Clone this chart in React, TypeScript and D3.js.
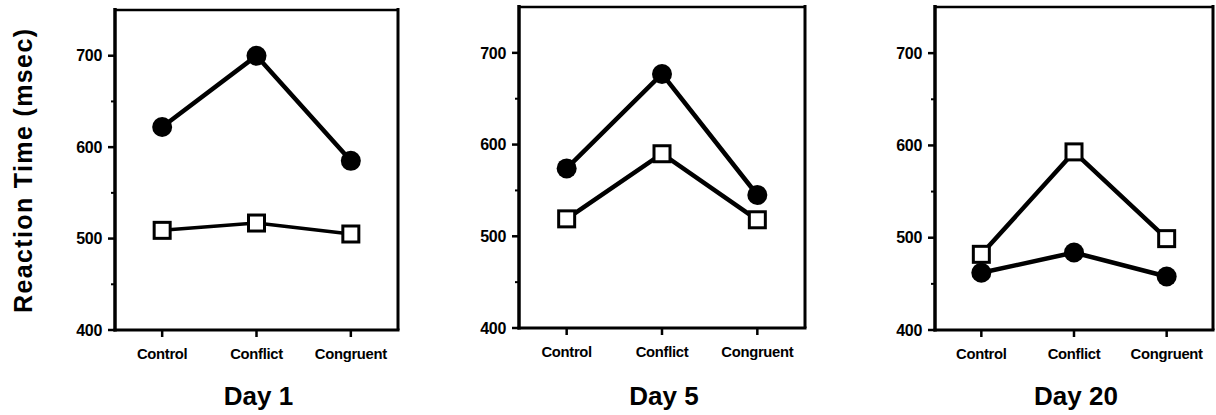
import React from "react";
import * as d3 from "d3";

const categories = ["Control", "Conflict", "Congruent"];
const days = ["Day 1", "Day 5", "Day 20"];
// filled circles
const circleValues = [
  [622, 700, 585],
  [574, 677, 545],
  [462, 484, 458],
];
// open squares
const squareValues = [
  [509, 517, 505],
  [519, 590, 518],
  [482, 593, 499],
];
const yTicks = [400, 500, 600, 700];
const yMinorTicks = [450, 550, 650];

const width = 1216;
const height = 415;
const font = "'Liberation Sans', Arial, Helvetica, sans-serif";

// pixel box of each panel
const panels = [
  { left: 115, right: 398, top: 10, bottom: 330 },
  { left: 519, right: 805, top: 7, bottom: 328 },
  { left: 935, right: 1213, top: 7, bottom: 330 },
];

const Panel = ({ idx }: { idx: number }) => {
  const p = panels[idx];
  const x = d3.scalePoint<string>().domain(categories).range([p.left, p.right]).padding(0.5);
  const y = d3.scaleLinear().domain([400, 750]).range([p.bottom, p.top]);
  const line = d3
    .line<number>()
    .x((_, i) => x(categories[i]) as number)
    .y((d) => y(d));
  const circles = circleValues[idx];
  const squares = squareValues[idx];
  const sq = 16;
  const mid = (p.left + p.right) / 2;

  return (
    <g>
      {/* frame */}
      <line x1={p.left} x2={p.right} y1={y(750)} y2={y(750)} stroke="#000" strokeWidth={2.5} />
      <line x1={p.right} x2={p.right} y1={y(750) - 2} y2={y(400)} stroke="#000" strokeWidth={3} />
      <line x1={p.left} x2={p.left} y1={y(750) - 2} y2={y(400) + 1.5} stroke="#000" strokeWidth={3.5} />
      <line x1={p.left - 1.5} x2={p.right + 1.5} y1={y(400)} y2={y(400)} stroke="#000" strokeWidth={3} />

      {/* y ticks */}
      {yTicks.map((t) => (
        <g key={t}>
          <line x1={p.left - 7} x2={p.left} y1={y(t)} y2={y(t)} stroke="#000" strokeWidth={2.5} />
          <text
            x={p.left - 13}
            y={y(t)}
            dy="0.36em"
            textAnchor="end"
            fontFamily={font}
            fontWeight="bold"
            fontSize={16}
            letterSpacing={-0.3}
          >
            {t}
          </text>
        </g>
      ))}
      {yMinorTicks.map((t) => (
        <line key={t} x1={p.left - 4} x2={p.left} y1={y(t)} y2={y(t)} stroke="#000" strokeWidth={2} />
      ))}

      {/* x ticks */}
      {categories.map((c) => (
        <g key={c}>
          <line
            x1={x(c)}
            x2={x(c)}
            y1={y(400)}
            y2={y(400) + 7}
            stroke="#000"
            strokeWidth={2.5}
          />
          <text
            x={x(c)}
            y={y(400) + 29}
            textAnchor="middle"
            fontFamily={font}
            fontWeight="bold"
            fontSize={14.8}
            letterSpacing={-0.3}
          >
            {c}
          </text>
        </g>
      ))}

      {/* series */}
      <path d={line(squares) || ""} fill="none" stroke="#000" strokeWidth={idx === 0 ? 3.5 : 4.5} />
      <path d={line(circles) || ""} fill="none" stroke="#000" strokeWidth={4.5} />
      {squares.map((v, i) => (
        <rect
          key={"s" + i}
          x={(x(categories[i]) as number) - sq / 2}
          y={y(v) - sq / 2}
          width={sq}
          height={sq}
          fill="#fff"
          stroke="#000"
          strokeWidth={3}
        />
      ))}
      {circles.map((v, i) => (
        <circle key={"c" + i} cx={x(categories[i]) as number} cy={y(v)} r={10} fill="#000" />
      ))}

      <text
        x={mid + 2}
        y={405}
        textAnchor="middle"
        fontFamily={font}
        fontWeight="bold"
        fontSize={26}
      >
        {days[idx]}
      </text>
    </g>
  );
};

export default function App() {
  return (
    <svg
      width={width}
      height={height}
      style={{ position: "absolute", left: 0, top: 0, background: "#fff" }}
    >
      <rect width={width} height={height} fill="#fff" />
      {panels.map((_, i) => (
        <Panel key={i} idx={i} />
      ))}
      <text
        transform="translate(32,171) rotate(-90)"
        textAnchor="middle"
        fontFamily={font}
        fontWeight="bold"
        fontSize={25}
        textLength={284}
        lengthAdjust="spacing"
      >
        Reaction Time (msec)
      </text>
    </svg>
  );
}
